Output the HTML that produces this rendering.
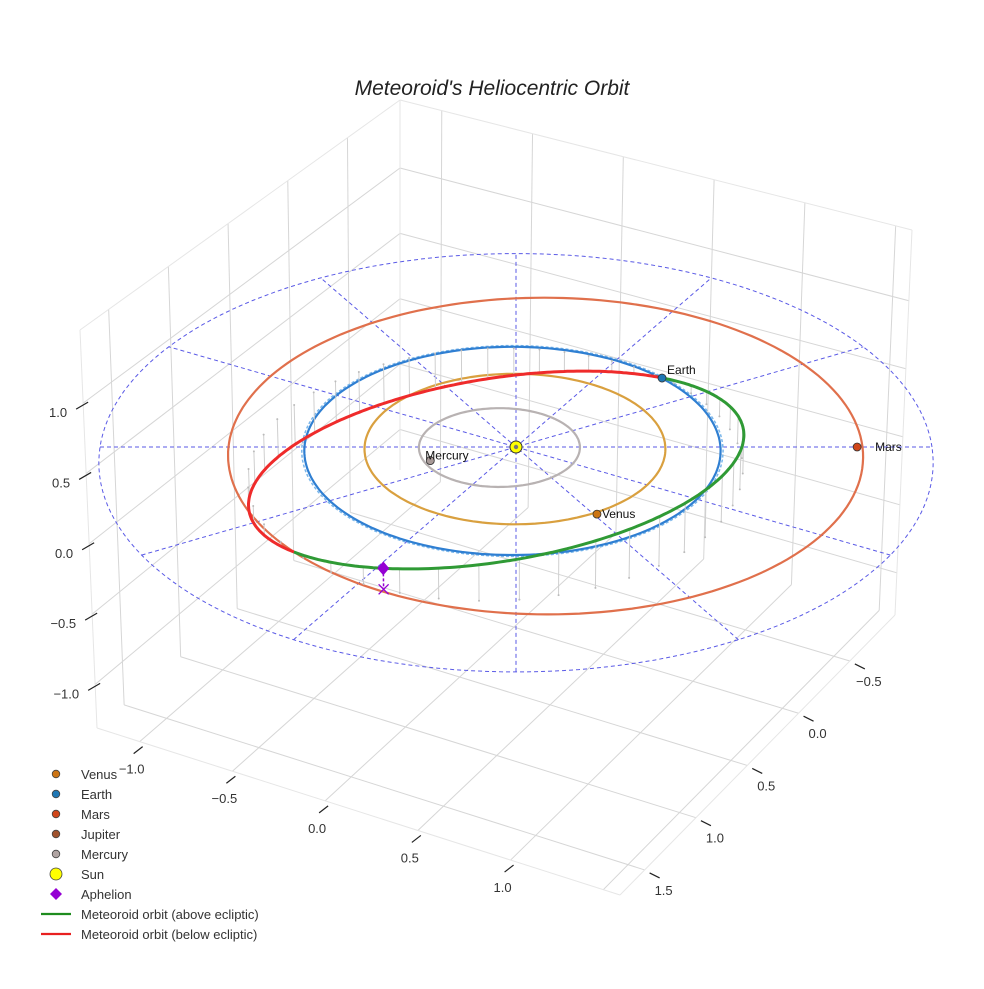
<!DOCTYPE html>
<html><head><meta charset="utf-8"><style>
body{margin:0;background:#fff;}
svg text{font-family:"Liberation Sans",sans-serif;}
</style></head><body>
<svg id="chart" width="984" height="984" viewBox="0 0 984 984" xmlns="http://www.w3.org/2000/svg">
<rect width="984" height="984" fill="#fff"/>
<text x="492" y="95" text-anchor="middle" font-size="21" font-style="italic" fill="#222">Meteoroid's Heliocentric Orbit</text>
<g id="grid"></g>
<g id="ticks"></g>
<g id="ecl"></g>
<g id="orbits"></g>
<g id="met"></g>
<g id="planets"></g>
<g id="legend"></g>
</svg>
<script>
// ---- data ----
const xTicks = [-1.0, -0.5, 0.0, 0.5, 1.0];
const yTicks = [-0.5, 0.0, 0.5, 1.0, 1.5];
const zTicks = [-1.0, -0.5, 0.0, 0.5, 1.0];
const xTickLabels = ["\u22121.0", "\u22120.5", "0.0", "0.5", "1.0"];
const yTickLabels = ["\u22120.5", "0.0", "0.5", "1.0", "1.5"];
const zTickLabels = ["\u22121.0", "\u22120.5", "0.0", "0.5", "1.0"];
const planetNames = ["Mercury", "Venus", "Earth", "Mars"];
const planetA = [0.387, 0.723, 1.0, 1.524];
const planetE = [0.206, 0.007, 0.017, 0.093];
const planetPeriLon = [0, 0, 0, 180];
const planetPosX = [-0.41, 0.38, 0.72, 1.64];
const planetPosY = [-0.13, -0.63, 0.68, 0.0];
const meteoroidA = [1.21];
const meteoroidE = [0.19];
const meteoroidInc = [12];
const meteoroidNode = [223.4];
const meteoroidArgPeri = [202.1];
const eclipticRadius = [2.0];
const radialAngles = [0, 30, 60, 90, 120, 150];

// ---- projections ----
const NS = "http://www.w3.org/2000/svg";
const E = 30 * Math.PI / 180, S = 208, D = 23, CX = 516, CY = 447;
function P(X, Y, Z) {
  const w = 1 + (Y * Math.cos(E) - Z * Math.sin(E)) / D;
  return [CX + S * X / w, CY - S * (Y * Math.sin(E) + Z * Math.cos(E)) / w];
}
const xr = [-1.23, 1.59], yr = [-0.94, 1.74], zr = [-1.31, 1.52];
const Bl = [97, 728], Bf = [620, 895], Br = [895, 615], Bb = [400, 470];
const Tl = [80, 330], Tb = [400, 100], Tr = [912, 230];
function bil(c00, c10, c11, c01, u, v) {
  const a = [c00[0] + (c10[0] - c00[0]) * u, c00[1] + (c10[1] - c00[1]) * u];
  const b = [c01[0] + (c11[0] - c01[0]) * u, c01[1] + (c11[1] - c01[1]) * u];
  return [a[0] + (b[0] - a[0]) * v, a[1] + (b[1] - a[1]) * v];
}
const nx = x => (x - xr[0]) / (xr[1] - xr[0]);
const nyF = y => (yr[1] - y) / (yr[1] - yr[0]);
const nz = z => (z - zr[0]) / (zr[1] - zr[0]);
function floorPt(x, y) { return bil(Bl, Bf, Br, Bb, nx(x), nyF(y)); }
function leftPt(y, z) { return bil(Bl, Bb, Tb, Tl, nyF(y), nz(z)); }
function rightPt(x, z) { return bil(Bb, Br, Tr, Tb, nx(x), nz(z)); }

function mk(tag, attrs, parent) {
  const el = document.createElementNS(NS, tag);
  for (const k in attrs) el.setAttribute(k, attrs[k]);
  parent.appendChild(el);
  return el;
}
function line(p, q, style, parent, name) {
  const el = mk("line", {x1: p[0], y1: p[1], x2: q[0], y2: q[1]}, parent);
  for (const k in style) el.setAttribute(k, style[k]);
  
  
  return el;
}
function poly(pts, style, parent, name) {
  const el = mk("polyline", {points: pts.map(p => p[0].toFixed(1) + "," + p[1].toFixed(1)).join(" "), fill: "none"}, parent);
  for (const k in style) el.setAttribute(k, style[k]);
  
  
  return el;
}

// ---- grid ----
const grid = document.getElementById("grid");
const gs = {stroke: "#d6d6d6", "stroke-width": 1};
const xg = [-1.0, -0.5, 0, 0.5, 1.0, 1.5], yg = [-0.5, 0, 0.5, 1.0, 1.5], zg = [-1.0, -0.5, 0, 0.5, 1.0];
xg.forEach(x => { line(floorPt(x, yr[0]), floorPt(x, yr[1]), gs, grid, "floor-grid-x"); line(rightPt(x, zr[0]), rightPt(x, zr[1]), gs, grid, "wall-grid-x"); });
yg.forEach(y => { line(floorPt(xr[0], y), floorPt(xr[1], y), gs, grid, "floor-grid-y"); line(leftPt(y, zr[0]), leftPt(y, zr[1]), gs, grid, "wall-grid-y"); });
zg.forEach(z => { line(leftPt(yr[0], z), leftPt(yr[1], z), gs, grid, "wall-grid-z"); line(rightPt(xr[0], z), rightPt(xr[1], z), gs, grid, "wall-grid-z"); });
const es = {stroke: "#e6e6e6", "stroke-width": 1};
[[Bl, Bf], [Bf, Br], [Bl, Tl], [Br, Tr], [Tl, Tb], [Tb, Tr], [Tb, Bb]].forEach(e => line(e[0], e[1], es, grid, "box-edge"));

// ---- ticks ----
const ticks = document.getElementById("ticks");
const ts = {stroke: "#222", "stroke-width": 1.2};
xTicks.forEach((x, i) => {
  const p = floorPt(x, yr[1]);
  line([p[0] + 3, p[1] + 5], [p[0] - 6, p[1] + 12], ts, ticks, "x-tick");
  const t = mk("text", {x: p[0] - 8, y: p[1] + 32, "text-anchor": "middle", "font-size": 13, fill: "#333"}, ticks);
  t.textContent = xTickLabels[i];
  
  
});
yTicks.forEach((y, i) => {
  const p = floorPt(xr[1], y);
  line([p[0] + 5, p[1] + 3], [p[0] + 15, p[1] + 8], ts, ticks, "y-tick");
  const t = mk("text", {x: p[0] + 19, y: p[1] + 25, "text-anchor": "middle", "font-size": 13, fill: "#333"}, ticks);
  t.textContent = yTickLabels[i];
  
  
});
zTicks.forEach((z, i) => {
  const p = leftPt(yr[1], z);
  line([p[0] - 7, p[1] + 6], [p[0] + 5, p[1] - 1], ts, ticks, "z-tick");
  const t = mk("text", {x: p[0] - 16, y: p[1] + 14, "text-anchor": "end", "font-size": 13, fill: "#333"}, ticks);
  t.textContent = zTickLabels[i];
  
  
});

// ---- ecliptic reference ----
const ecl = document.getElementById("ecl");
const ds = {stroke: "#5a5ae6", "stroke-width": 1, "stroke-dasharray": "4,3"};
const R = eclipticRadius[0];
const ring = [];
for (let k = 0; k <= 180; k++) { const t = k / 180 * 2 * Math.PI; ring.push(P(R * Math.cos(t), R * Math.sin(t), 0)); }
poly(ring, ds, ecl, "ecliptic-ring");
radialAngles.forEach(a => {
  const t = a * Math.PI / 180;
  const pts = [];
  for (let k = -20; k <= 20; k++) pts.push(P(R * k / 20 * Math.cos(t), R * k / 20 * Math.sin(t), 0));
  poly(pts, ds, ecl, "ecliptic-radial-line");
});

// ---- planet orbits ----
const orbits = document.getElementById("orbits");
const orbitColors = ["#b8b2b2", "#d9a03f", "#2f7fd2", "#e0704c"];
function orbitPts(a, e, w, scale) {
  const pts = [];
  for (let k = 0; k <= 200; k++) {
    const nu = k / 200 * 2 * Math.PI;
    const r = scale * a * (1 - e * e) / (1 + e * Math.cos(nu));
    const th = nu + w * Math.PI / 180;
    pts.push(P(r * Math.cos(th), r * Math.sin(th), 0));
  }
  return pts;
}
planetNames.forEach((n, i) => {
  if (n === "Earth") poly(orbitPts(planetA[i], planetE[i], planetPeriLon[i], 1.012), {stroke: "#7ab6ea", "stroke-width": 1.5, "stroke-dasharray": "3,2"}, orbits, "earth-orbit-ghost");
  poly(orbitPts(planetA[i], planetE[i], planetPeriLon[i], 1), {stroke: orbitColors[i], "stroke-width": 2.2}, orbits, n.toLowerCase() + "-orbit");
});

// ---- meteoroid ----
const met = document.getElementById("met");
const a = meteoroidA[0], e = meteoroidE[0], inc = meteoroidInc[0] * Math.PI / 180;
const Om = meteoroidNode[0] * Math.PI / 180, om = meteoroidArgPeri[0] * Math.PI / 180;
function posU(u) {
  const nu = u - om;
  const r = a * (1 - e * e) / (1 + e * Math.cos(nu));
  return [r * (Math.cos(Om) * Math.cos(u) - Math.sin(Om) * Math.sin(u) * Math.cos(inc)),
          r * (Math.sin(Om) * Math.cos(u) + Math.cos(Om) * Math.sin(u) * Math.cos(inc)),
          r * Math.sin(u) * Math.sin(inc)];
}
for (let k = 0; k < 48; k++) {
  const q = posU(k / 48 * 2 * Math.PI + 0.05);
  const p1 = P(q[0], q[1], q[2]), p0 = P(q[0], q[1], 0);
  line(p1, p0, {stroke: "#cfcfcf", "stroke-width": 1}, met, "drop-line");
  const dot = mk("circle", {cx: p0[0], cy: p0[1], r: 1, fill: "#bbb"}, met);
  
  
}
const green = [], red = [];
for (let k = 0; k <= 180; k++) {
  const q = posU(k / 180 * Math.PI);
  green.push(P(q[0], q[1], q[2]));
  const r = posU(Math.PI + k / 180 * Math.PI);
  red.push(P(r[0], r[1], r[2]));
}
poly(red, {stroke: "#ef2b2b", "stroke-width": 3}, met, "meteoroid-below-ecliptic");
poly(green, {stroke: "#2f9a35", "stroke-width": 3}, met, "meteoroid-above-ecliptic");
const ap = posU(om + Math.PI);
const apP = P(ap[0], ap[1], ap[2]), apG = P(ap[0], ap[1], 0);
line(apP, apG, {stroke: "#9400d3", "stroke-width": 1.5, "stroke-dasharray": "3,2"}, met, "aphelion-drop");
const dm = mk("polygon", {points: `${apP[0]},${apP[1]-7} ${apP[0]+6},${apP[1]} ${apP[0]},${apP[1]+7} ${apP[0]-6},${apP[1]}`, fill: "#9400d3"}, met);


line([apG[0]-5, apG[1]-5], [apG[0]+5, apG[1]+5], {stroke: "#9400d3", "stroke-width": 1.3}, met, "aphelion-projection");
line([apG[0]-5, apG[1]+5], [apG[0]+5, apG[1]-5], {stroke: "#9400d3", "stroke-width": 1.3}, met, "aphelion-projection");

// ---- planets ----
const planets = document.getElementById("planets");
const pColors = ["#a89a98", "#cc7414", "#1f77b4", "#d0461a"];
planetNames.forEach((n, i) => {
  const p = P(planetPosX[i], planetPosY[i], 0);
  const c = mk("circle", {cx: p[0], cy: p[1], r: 4, fill: pColors[i], stroke: "#333", "stroke-width": 0.8}, planets);
  
  
  const dx = n === "Mars" ? 18 : (n === "Mercury" ? -5 : 5);
  const dy = n === "Earth" ? -4 : (n === "Mercury" ? -1 : 4);
  const t = mk("text", {x: p[0] + dx, y: p[1] + dy, "font-size": 12, fill: "#111"}, planets);
  t.textContent = n;
  
  
});
const sp = P(0, 0, 0);
const sun = mk("circle", {cx: sp[0], cy: sp[1], r: 6, fill: "#ffff00", stroke: "#333", "stroke-width": 1}, planets);


const sd = mk("circle", {cx: sp[0], cy: sp[1], r: 2.2, fill: "#777"}, planets);



// ---- legend ----
const legend = document.getElementById("legend");
const legNames = ["Venus", "Earth", "Mars", "Jupiter", "Mercury", "Sun", "Aphelion", "Meteoroid orbit (above ecliptic)", "Meteoroid orbit (below ecliptic)"];
const legColors = ["#cc7414", "#1f77b4", "#d0461a", "#a0522d", "#b0a4a2", "#ffff00", "#9400d3", "#1e8c1e", "#e82020"];
legNames.forEach((n, i) => {
  const y = 774 + i * 20;
  const g = mk("g", {}, legend);
  
  
  if (i < 6) {
    const c = mk("circle", {cx: 56, cy: y, r: i === 5 ? 6 : 3.8, fill: legColors[i], stroke: "#444", "stroke-width": 0.8}, g);
    
    
  } else if (i === 6) {
    const d = mk("polygon", {points: `56,${y-6} 62,${y} 56,${y+6} 50,${y}`, fill: legColors[i]}, g);
    
    
  } else {
    line([41, y], [71, y], {stroke: legColors[i], "stroke-width": 2.2}, g, "legend-line");
  }
  const t = mk("text", {x: 81, y: y + 5, "font-size": 13, fill: "#333"}, g);
  t.textContent = n;
  
  
});
</script>
</body></html>
